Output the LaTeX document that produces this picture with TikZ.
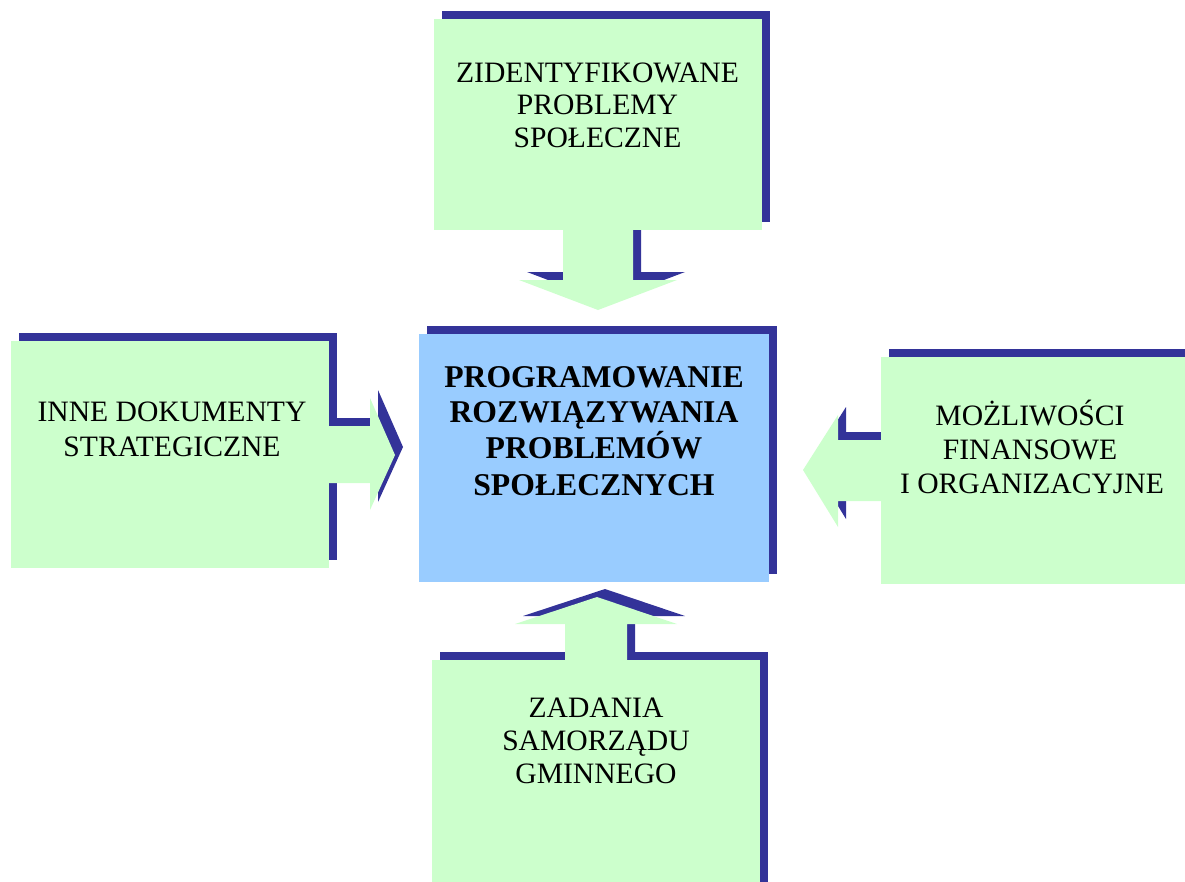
\documentclass[tikz,border=0pt]{standalone}
\usepackage{fontspec}
\setmainfont{Liberation Serif}
\definecolor{boxgreen}{HTML}{CCFFCC}
\definecolor{boxblue}{HTML}{99CCFF}
\definecolor{shadowblue}{HTML}{333399}
\tikzset{
  greenfill/.style={fill=boxgreen, draw=none},
  bluefill/.style={fill=boxblue, draw=none},
  shadowfill/.style={fill=shadowblue, draw=none},
  txt/.style={anchor=base, inner sep=0pt, font=\fontsize{29.6}{34}\selectfont},
  btxt/.style={anchor=base, inner sep=0pt, font=\fontsize{31.7}{36}\selectfont\bfseries},
}
\begin{document}
\begin{tikzpicture}[x=1pt,y=-1pt]
\useasboundingbox (0,0) rectangle (1185,881);
\clip (0,0) rectangle (1185,881);
% ---------- shadows (shifted 8 right, 8 up) ----------
\begin{scope}[shift={(8,-8)}]
  % boxes
  \fill[shadowfill] (434,19) rectangle (762,230);
  \fill[shadowfill] (11,341) rectangle (329,568);
  \fill[shadowfill] (881,357) rectangle (1200,584);
  \fill[shadowfill] (432,660) rectangle (760,900);
  \fill[shadowfill] (419,334) rectangle (769,582);
  % arrows
  \fill[shadowfill] (563,225) -- (633,225) -- (633,280) -- (677,280) -- (598,310) -- (519,280) -- (563,280) -- cycle;
  \fill[shadowfill] (324,426) -- (370,426) -- (370,398) -- (395,455) -- (370,510) -- (370,483) -- (324,483) -- cycle;
  \fill[shadowfill] (886,440) -- (838,440) -- (838,415) -- (803,470) -- (838,527) -- (838,501) -- (886,501) -- cycle;
  \fill[shadowfill] (565,665) -- (565,624) -- (515,624) -- (597,597) -- (677,624) -- (627,624) -- (627,665) -- cycle;
\end{scope}
% ---------- arrows ----------
\fill[greenfill] (563,225) -- (633,225) -- (633,280) -- (677,280) -- (598,310) -- (519,280) -- (563,280) -- cycle;
\fill[greenfill] (324,426) -- (370,426) -- (370,398) -- (395,455) -- (370,510) -- (370,483) -- (324,483) -- cycle;
\fill[greenfill] (886,440) -- (838,440) -- (838,415) -- (803,470) -- (838,527) -- (838,501) -- (886,501) -- cycle;
\fill[greenfill] (565,665) -- (565,624) -- (515,624) -- (597,597) -- (677,624) -- (627,624) -- (627,665) -- cycle;
% ---------- boxes ----------
\fill[greenfill] (434,19) rectangle (762,230);
\fill[greenfill] (11,341) rectangle (329,568);
\fill[greenfill] (881,357) rectangle (1200,584);
\fill[greenfill] (432,660) rectangle (760,900);
\fill[bluefill] (419,334) rectangle (769,582);
% ---------- texts ----------
\node[txt] (t1) at (597.5,82) {ZIDENTYFIKOWANE};
\node[txt] (t2) at (597.5,114.5) {PROBLEMY};
\node[txt] (t3) at (597.5,147) {SPOŁECZNE};
\node[txt] (l1) at (172,421) {INNE DOKUMENTY};
\node[txt] (l2) at (172,456) {STRATEGICZNE};
\node[txt] (r1) at (1030,425) {MOŻLIWOŚCI};
\node[txt] (r2) at (1030,459) {FINANSOWE};
\node[txt] (r3) at (1032,493) {I ORGANIZACYJNE};
\node[txt] (b1) at (596,717) {ZADANIA};
\node[txt] (b2) at (596,750) {SAMORZĄDU};
\node[txt] (b3) at (596,783) {GMINNEGO};
\node[btxt] (c1) at (594,387) {PROGRAMOWANIE};
\node[btxt] (c2) at (594,422) {ROZWIĄZYWANIA};
\node[btxt] (c3) at (594,458) {PROBLEMÓW};
\node[btxt] (c4) at (594,495) {SPOŁECZNYCH};
\end{tikzpicture}
\end{document}
